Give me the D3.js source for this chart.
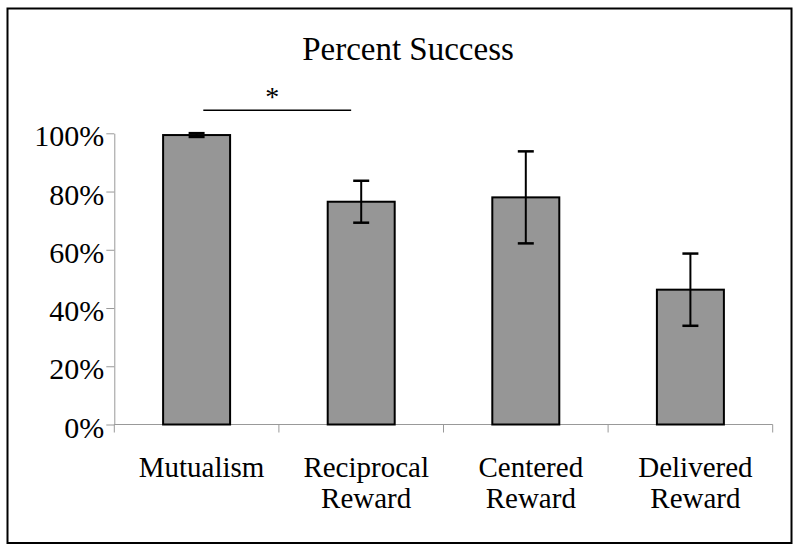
<!DOCTYPE html>
<html>
<head>
<meta charset="utf-8">
<script src="https://cdn.jsdelivr.net/npm/d3@7"></script>
<style>
  html, body { margin: 0; padding: 0; background: #fff; }
  svg { display: block; }
</style>
</head>
<body>
<svg id="chart" width="800" height="552"></svg>
<script>
// ---- data ----
const categories = ["Mutualism", "Reciprocal Reward", "Centered Reward", "Delivered Reward"];
const labelLines = [["Mutualism"], ["Reciprocal", "Reward"], ["Centered", "Reward"], ["Delivered", "Reward"]];
const successPct = [99.4, 76.5, 78.0, 46.3];
const errorPct = [0.65, 7.2, 15.8, 12.4];
const yTicks = [0, 20, 40, 60, 80, 100];
const chartTitle = "Percent Success";
const sigPair = ["Mutualism", "Reciprocal Reward"];
const sigLabel = "*";

// ---- layout ----
const FONT = '"Liberation Serif"';
const svg = d3.select("#chart");
const plot = { left: 114.3, right: 772.7, top: 133.3, bottom: 424.5 };

svg.append("rect")
  .attr("x", 7.5).attr("y", 8.5).attr("width", 784).attr("height", 534.5)
  .attr("fill", "#fff").attr("stroke", "#000").attr("stroke-width", 2);

const y = d3.scaleLinear().domain([0, 100]).range([plot.bottom, plot.top]);
const xBand = d3.scaleBand().domain(categories).range([plot.left, plot.right])
  .paddingInner(0.593).paddingOuter(0.2965);
const xCell = d3.scaleBand().domain(categories).range([plot.left, plot.right]).padding(0);

// title
svg.append("text")
  .attr("x", 408).attr("y", 60)
  .attr("text-anchor", "middle")
  .attr("font-family", FONT)
  .attr("font-size", 33)
  .attr("fill", "#000")
  .text(chartTitle);

// y axis
const yAxis = d3.axisLeft(y)
  .tickValues(yTicks)
  .tickSizeInner(8).tickSizeOuter(0)
  .tickFormat(d => d + "%");
const gy = svg.append("g").attr("transform", `translate(${plot.left},0)`).call(yAxis);
gy.attr("font-family", FONT).attr("font-size", 30);
gy.select(".domain").attr("stroke", "#999").attr("stroke-width", 1);
gy.selectAll(".tick line").attr("stroke", "#999").attr("stroke-width", 1);
gy.selectAll(".tick text")
  .attr("x", -10).attr("dy", "0.42em")
  .attr("fill", "#000");

// x axis line with category separators
const bounds = categories.map(c => xCell(c)).concat([plot.right]);
svg.append("line")
  .attr("x1", plot.left).attr("x2", plot.right)
  .attr("y1", y(0)).attr("y2", y(0))
  .attr("stroke", "#999").attr("stroke-width", 1);
svg.selectAll("line.sep").data(bounds).join("line")
  .attr("class", "sep")
  .attr("x1", d => d).attr("x2", d => d)
  .attr("y1", y(0)).attr("y2", y(0) + 8)
  .attr("stroke", "#999").attr("stroke-width", 1);

// bars
const data = categories.map((c, i) => ({ c, v: successPct[i], e: errorPct[i], lines: labelLines[i] }));
svg.selectAll("rect.bar").data(data).join("rect")
  .attr("class", "bar")
  .attr("x", d => xBand(d.c))
  .attr("y", d => y(d.v))
  .attr("width", xBand.bandwidth())
  .attr("height", d => y(0) - y(d.v))
  .attr("fill", "#969696")
  .attr("stroke", "#000")
  .attr("stroke-width", 2);

// error bars
const capW = 8;
const eb = svg.selectAll("g.err").data(data).join("g").attr("class", "err")
  .attr("transform", d => `translate(${xBand(d.c) + xBand.bandwidth() / 2},0)`);
eb.append("line")
  .attr("x1", 0).attr("x2", 0)
  .attr("y1", d => y(d.v + d.e)).attr("y2", d => y(d.v - d.e))
  .attr("stroke", "#000").attr("stroke-width", 2);
eb.append("line")
  .attr("x1", -capW).attr("x2", capW)
  .attr("y1", d => y(d.v + d.e)).attr("y2", d => y(d.v + d.e))
  .attr("stroke", "#000").attr("stroke-width", 2.5);
eb.append("line")
  .attr("x1", -capW).attr("x2", capW)
  .attr("y1", d => y(d.v - d.e)).attr("y2", d => y(d.v - d.e))
  .attr("stroke", "#000").attr("stroke-width", 2.5);

// category labels
const lab = svg.selectAll("text.cat").data(data).join("text")
  .attr("class", "cat")
  .attr("text-anchor", "middle")
  .attr("font-family", FONT)
  .attr("font-size", 29)
  .attr("fill", "#000");
lab.selectAll("tspan").data(d => d.lines.map(l => ({ l, cx: xCell(d.c) + xCell.bandwidth() / 2 + 5 })))
  .join("tspan")
  .attr("x", d => d.cx)
  .attr("y", (d, i) => 477 + i * 31)
  .text(d => d.l);

// significance marker
const sx1 = xBand(sigPair[0]) + xBand.bandwidth() * 0.6;
const sx2 = xBand(sigPair[1]) + xBand.bandwidth() * 0.35;
svg.append("line")
  .attr("x1", sx1).attr("x2", sx2)
  .attr("y1", 110.3).attr("y2", 110.3)
  .attr("stroke", "#000").attr("stroke-width", 1.5);
svg.append("text")
  .attr("x", (sx1 + sx2) / 2 - 5).attr("y", 106)
  .attr("text-anchor", "middle")
  .attr("font-family", FONT)
  .attr("font-size", 28)
  .attr("fill", "#000")
  .text(sigLabel);
</script>
</body>
</html>
